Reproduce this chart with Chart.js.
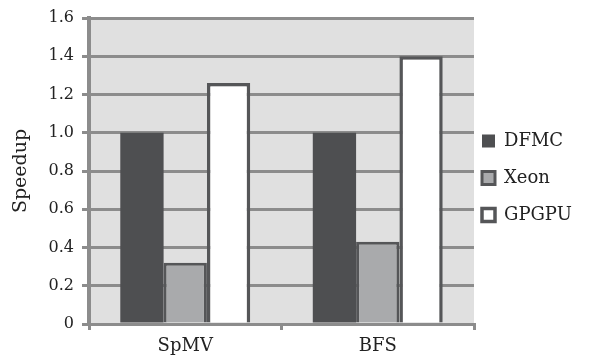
<!DOCTYPE html>
<html>
<head>
<meta charset="utf-8">
<script src="https://cdn.jsdelivr.net/npm/chart.js@4/dist/chart.umd.min.js"></script>
<style>
  html, body { margin: 0; padding: 0; background: #ffffff; }
  #wrap { width: 593px; height: 358px; }
</style>
</head>
<body>
<div id="wrap"><canvas id="c" width="593" height="358"></canvas></div>
<script>
// Benchmarks and measured speedups
const categories = ['SpMV', 'BFS'];
const seriesNames = ['DFMC', 'Xeon', 'GPGPU'];
const dfmcValues = [1.0, 1.0];
const xeonValues = [0.32, 0.43];
const gpgpuValues = [1.26, 1.40];
const yTickValues = [0, 0.2, 0.4, 0.6, 0.8, 1.0, 1.2, 1.4, 1.6];

const FONT = '"DejaVu Serif", "Liberation Serif", serif';
const TEXT = '#222222';
const GRID = '#8c8c8c';
const PLOT_BG = '#e0e0e0';

// Plot geometry (canvas pixels)
const PLOT_LEFT = 89;
const PLOT_RIGHT = 474;
const PLOT_TOP = 18;
const PLOT_BOTTOM = 324;
const PAD_BOTTOM = 2;

// Legend sizing: width follows from the widest label
const legendFont = { family: FONT, size: 18 };
const legendPad = 19;      // vertical gap between legend rows
const legendInset = 8;     // gap between plot edge and legend swatches
const legendBox = 13;
const measureCtx = document.createElement('canvas').getContext('2d');
measureCtx.font = legendFont.size + 'px ' + FONT;
const widest = Math.max(...seriesNames.map(n => measureCtx.measureText(n).width));
const legendWidth = legendPad + legendBox + legendFont.size / 2 + widest + 10;
const padRight = Math.max(0, 593 - PLOT_RIGHT - legendWidth);

// Grey plot-area background under the grid
const plotBackground = {
  id: 'plotBackground',
  beforeDraw(chart) {
    const { ctx, chartArea: a } = chart;
    ctx.save();
    ctx.fillStyle = PLOT_BG;
    ctx.fillRect(a.left, a.top, a.right - a.left, a.bottom - a.top);
    ctx.restore();
  }
};

// Pull the legend column in towards the plot while keeping its row spacing
const legendNudge = {
  id: 'legendNudge',
  afterLayout(chart) {
    const lg = chart.legend;
    if (!lg) return;
    const shift = legendPad - legendInset;
    lg.left -= shift;
    lg.right -= shift;
  }
};

new Chart(document.getElementById('c'), {
  type: 'bar',
  data: {
    labels: categories,
    datasets: [
      {
        label: seriesNames[0],
        data: dfmcValues,
        backgroundColor: '#4e4f51',
        borderColor: '#4e4f51',
        borderWidth: 0
      },
      {
        label: seriesNames[1],
        data: xeonValues,
        backgroundColor: '#a9aaac',
        borderColor: '#555658',
        borderWidth: 3
      },
      {
        label: seriesNames[2],
        data: gpgpuValues,
        backgroundColor: '#ffffff',
        borderColor: '#555658',
        borderWidth: 3.5
      }
    ]
  },
  options: {
    responsive: false,
    animation: false,
    events: [],
    layout: { padding: { left: 0, top: 0, right: padRight, bottom: PAD_BOTTOM } },
    datasets: {
      bar: { categoryPercentage: 0.675, barPercentage: 1.0 }
    },
    plugins: {
      tooltip: { enabled: false },
      legend: {
        position: 'right',
        align: 'center',
        labels: {
          boxWidth: legendBox,
          boxHeight: legendBox,
          padding: legendPad,
          color: TEXT,
          font: legendFont
        }
      }
    },
    scales: {
      x: {
        afterFit(scale) { scale.height = 358 - PLOT_BOTTOM - PAD_BOTTOM; },
        grid: {
          display: true,
          offset: true,
          drawOnChartArea: false,
          drawTicks: true,
          tickLength: 6,
          color: GRID,
          lineWidth: 3
        },
        border: { display: true, color: GRID, width: 3 },
        ticks: { color: TEXT, font: { family: FONT, size: 18 }, padding: 6 }
      },
      y: {
        min: 0,
        max: 1.6,
        afterBuildTicks(scale) { scale.ticks = yTickValues.map(v => ({ value: v })); },
        afterFit(scale) {
          scale.width = PLOT_LEFT;
          scale.paddingTop = PLOT_TOP;
        },
        grid: {
          color: GRID,
          lineWidth: 3,
          drawTicks: true,
          tickLength: 7
        },
        border: { display: true, color: GRID, width: 4 },
        ticks: {
          color: TEXT,
          font: { family: FONT, size: 16 },
          padding: 8,
          callback: v => (v === 0 ? '0' : Number(v).toFixed(1))
        },
        title: {
          display: true,
          text: 'Speedup',
          color: TEXT,
          font: { family: FONT, size: 19 },
          padding: { top: 10, bottom: 0 }
        }
      }
    }
  },
  plugins: [plotBackground, legendNudge]
});
</script>
</body>
</html>
